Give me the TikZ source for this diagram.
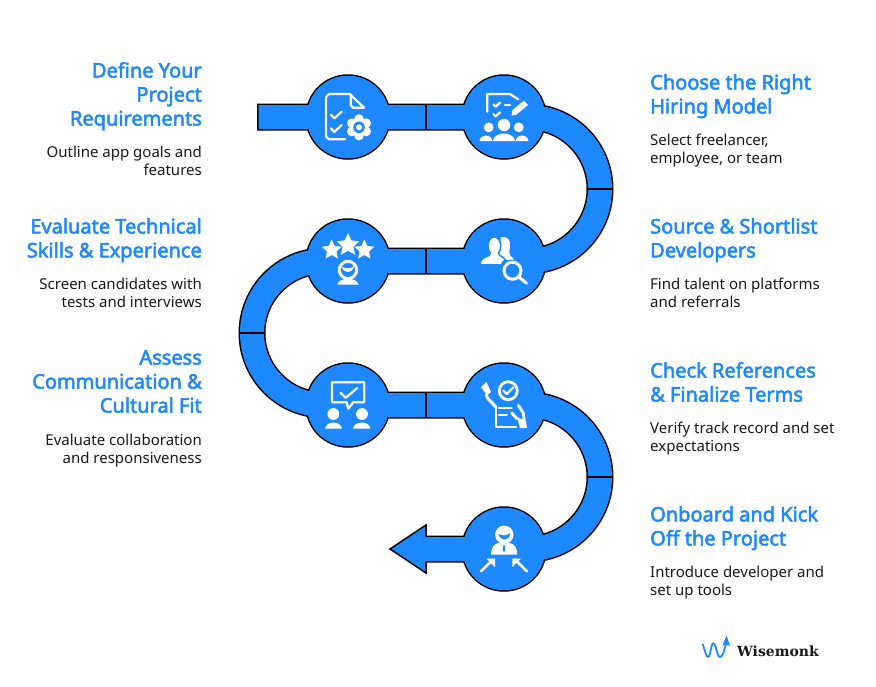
\documentclass[tikz,border=0pt]{standalone}
\usepackage{fontspec}
\usetikzlibrary{shapes.geometric}
\setmainfont{Noto Sans}
\newfontfamily\headf{Noto Sans}[FakeBold=2.5]
\newfontfamily\logof{DejaVu Serif}[BoldFont={DejaVu Serif Bold}]
\definecolor{wblue}{HTML}{1E88FF}
\definecolor{wtext}{HTML}{1A1A1A}
\newcommand\bandroute{-- (n1.center) -- (n2.center) -- (a1) arc[start angle=-90,end angle=90,radius=72] -- (n4.center) -- (n3.center) -- (a2) arc[start angle=270,end angle=90,radius=72] -- (n5.center) -- (n6.center) -- (a3) arc[start angle=-90,end angle=90,radius=72] -- (n7.center) -- (e1)}
\newcommand\dome[5]{\fill[white] (#1,#5) .. controls (#1+1,#4) and (#2-1,#4) .. (#2,#5) -- cycle;}
\tikzset{
  x=1pt,y=-1pt,
  stage/.style={circle,minimum size=84pt,inner sep=0pt,draw=black,line width=1.5pt,fill=wblue},
  bandout/.style={draw=black,line width=27pt,line join=round},
  bandin/.style={draw=wblue,line width=24pt,line join=round},
  divider/.style={draw=black,line width=1.5pt},
  ico/.style={draw=white,line width=2.2pt,line cap=round,line join=round},
  title/.style={anchor=north,inner sep=0pt,text=wblue,font=\headf\fontsize{20}{24}\selectfont,execute at begin node=\rule{0pt}{15pt}},
  desc/.style={anchor=north,inner sep=0pt,text=wtext,font=\fontsize{15}{18}\selectfont,execute at begin node=\rule{0pt}{15pt}},
  lhs/.style={anchor=north east,align=right},
  rhs/.style={anchor=north west,align=left},
  starshape/.style={star,star points=5,star point ratio=2.1,fill=white,inner sep=0pt},
}
\begin{document}
\begin{tikzpicture}
\useasboundingbox (0,0) rectangle (876,686);
\fill[white] (0,0) rectangle (876,686);
% stages
\node[stage] (n1) at (348,117) {};
\node[stage] (n2) at (504,117) {};
\node[stage] (n3) at (348,261) {};
\node[stage] (n4) at (504,261) {};
\node[stage] (n5) at (348,405) {};
\node[stage] (n6) at (504,405) {};
\node[stage] (n7) at (504,549) {};
\coordinate (s0) at (257,117);
\coordinate (s1) at (258.5,117);
\coordinate (a1) at (528,117);
\coordinate (a2) at (324,261);
\coordinate (a3) at (528,405);
\coordinate (e1) at (420,549);
% band
\path[bandout] (s0) \bandroute;
\filldraw[fill=wblue,draw=black,line width=1.5pt,miter limit=10] (426,525) -- (390,549) -- (426,573) -- cycle;
\path[bandin] (s1) \bandroute;
\foreach \n in {n1,n2,n3,n4,n5,n6,n7}{\fill[wblue] (\n) circle[radius=41.2];}
% dividers
\draw[divider] (426,105) -- (426,129);
\draw[divider] (426,249) -- (426,273);
\draw[divider] (426,393) -- (426,417);
\draw[divider] (588,189) -- (612,189);
\draw[divider] (240,333) -- (264,333);
\draw[divider] (588,477) -- (612,477);
% icon 1
\begin{scope}[shift={(n1.center)}]
  \draw[ico] (-3,22.3) -- (-19,22.3) -- (-22,19.5) -- (-22,-20) -- (-19,-23) -- (2.5,-23);
  \draw[ico] (2.7,-22) -- (16,-9.3) -- (5,-9.3) -- (2.7,-12) -- cycle;
  \draw[ico] (-17,-2) -- (-13.7,1.3) -- (-6.3,-5.3);
  \draw[ico] (-17,11.3) -- (-13.7,15) -- (-6.3,8);
  \begin{scope}[shift={(11,10.3)}]
    \foreach \a in {90,150,210,270,330,30}{\fill[white] (\a:8.3) circle[radius=4.8];}
    \fill[white] (0,0) circle[radius=9.5];
    \fill[wblue] (0,0) circle[radius=5.8];
    \fill[white] (0,0) circle[radius=3];
  \end{scope}
\end{scope}
% icon 2
\begin{scope}[shift={(n2.center)}]
  \draw[ico] (-16.7,-5.3) -- (-16.7,-23) -- (6,-23) -- (14.3,-17.7);
  \draw[ico] (-10.7,-12.7) -- (-8.3,-10.3) -- (-4,-14.3);
  \draw[ico] (-10.7,-3) -- (-8.3,-0.7) -- (-4,-4.7);
  \draw[ico] (1,-12) -- (6,-12);
  \fill[white] (7.5,-1.3) -- (8.5,-7) -- (20,-16.5) -- (24,-12) -- (12.5,-2.5) -- cycle;
  \fill[white] (0,8) circle[radius=6.2];
  \fill[white] (-15.3,10.3) circle[radius=4.9];
  \fill[white] (14.7,10.3) circle[radius=4.9];
  \dome{-11}{11}{0}{14}{24}
  \dome{-24.5}{-11.5}{-15}{16.5}{24}
  \dome{11.5}{24.5}{15}{16.5}{24}
\end{scope}
% icon 3
\begin{scope}[shift={(n3.center)}]
  \node[starshape,minimum size=24pt] (st1) at (0,-16) {};
  \node[starshape,minimum size=21pt] (st2) at (-16.3,-11) {};
  \node[starshape,minimum size=21pt] (st3) at (16.3,-11) {};
  \draw[white,line width=3pt] (0,9) circle[radius=8.7];
  \fill[white] (-6,5.5) .. controls (-3,8) and (3,8) .. (6,5) .. controls (5,13) and (-5,13) .. (-6,5.5) -- cycle;
  \dome{-10.5}{10.5}{0}{16}{23.5}
\end{scope}
% icon 4
\begin{scope}[shift={(n4.center)}]
  \fill[white] (-3,-24) .. controls (3,-25) and (7,-21) .. (6,-15) .. controls (5,-9) and (5,-6) .. (8,-4) -- (10,-1.5) -- (0,-1) -- (-5,-6) -- cycle;
  \filldraw[fill=white,draw=wblue,line width=1.5pt] (-24,3.9) .. controls (-24,-2) and (-21,-3) .. (-15,-5.5) -- (-13,-9) -- (-6,-9) -- (-4,-5.5) .. controls (-1,-4) and (0,-3) .. (1.5,-1) .. controls (-1,0) and (-2,2) .. (-2.5,3.9) -- cycle;
  \filldraw[fill=white,draw=wblue,line width=1.5pt] (-9.7,-15) ellipse[x radius=6.4,y radius=9.2];
  \fill[white] (-13.5,-8) rectangle (-6,-4);
  \draw[white,line width=3pt] (8.5,9.7) circle[radius=8.5];
  \draw[white,line width=3pt,line cap=round] (15,16) -- (22.5,22.3);
\end{scope}
% icon 5
\begin{scope}[shift={(n5.center)}]
  \draw[ico] (-1.3,-2.7) -- (-16,-2.7) -- (-16,-22.7) -- (16.3,-22.7) -- (16.3,-2.7) -- (5.3,-2.7) -- (0.3,3.7) -- cycle;
  \draw[ico] (-7.3,-12) -- (-2.3,-7.3) -- (9.3,-17);
  \fill[white] (-14.7,9) circle[radius=5.9];
  \fill[white] (14,9) circle[radius=5.9];
  \dome{-23}{-6}{-14.5}{15.5}{23.7}
  \dome{5}{22.5}{14}{15.5}{23.7}
\end{scope}
% icon 6
\begin{scope}[shift={(n6.center)}]
  \draw[white,line width=2.8pt] (4.3,-14.3) circle[radius=9];
  \draw[ico] (-0.7,-14.3) -- (2.7,-11) -- (9.3,-17.7);
  \draw[ico] (-8.3,2) -- (-8.3,22.3) -- (12,22.3);
  \draw[ico] (-5,3) -- (7.7,3);
  \draw[ico] (-5,10.3) -- (2.7,10.3);
  \fill[white] (-23,-18) -- (-17.5,-23) -- (-13,-13) -- (-17,-9.5) -- cycle;
  \draw[ico,line width=3pt] (-18,-10) -- (-15.7,-6) -- (-8,2);
  \draw[ico,line width=2.8pt] (14.3,0.3) -- (19.3,8) -- (20.5,18);
  \draw[ico,line width=3pt] (7.7,8) -- (13,13.5);
  \fill[white] (13,12) -- (22,16) -- (23,23) -- (16,23) -- cycle;
\end{scope}
% icon 7
\begin{scope}[shift={(n7.center)}]
  \fill[white] (0.3,-14.3) circle[radius=9.2];
  \fill[wblue] (-5.5,-15) .. controls (-2,-13) and (3,-13) .. (6,-16) .. controls (6,-8) and (-4,-7) .. (-5.5,-15) -- cycle;
  \fill[white] (-13,5.7) .. controls (-13,-5) and (-6,-7) .. (0,-7) .. controls (6,-7) and (13.3,-5) .. (13.3,5.7) -- cycle;
  \fill[wblue] (0,-0.5) ellipse[x radius=1.3,y radius=3.3];
  \draw[ico,line width=2.6pt] (-23,22.3) -- (-11,10.5);
  \fill[white] (-17.3,9.7) -- (-9,9.7) -- (-9,18) -- cycle;
  \draw[ico,line width=2.6pt] (23,22.3) -- (11,10.5);
  \fill[white] (8.3,18) -- (8.3,9.7) -- (17,9.7) -- cycle;
\end{scope}
% texts left
\node[title,lhs] (t1) at (202,62) {Define Your\\Project\\Requirements};
\node[desc,lhs] (d1) at (202,145.5) {Outline app goals and\\features};
\node[title,lhs] (t3) at (202,218) {Evaluate Technical\\Skills \& Experience};
\node[desc,lhs] (d3) at (202,277.5) {Screen candidates with\\tests and interviews};
\node[title,lhs] (t5) at (202,350) {Assess\\Communication \&\\Cultural Fit};
\node[desc,lhs] (d5) at (202,433.5) {Evaluate collaboration\\and responsiveness};
% texts right
\node[title,rhs] (t2) at (650,74) {Choose the Right\\Hiring Model};
\node[desc,rhs] (d2) at (650,133.5) {Select freelancer,\\employee, or team};
\node[title,rhs] (t4) at (650,218) {Source \& Shortlist\\Developers};
\node[desc,rhs] (d4) at (650,277.5) {Find talent on platforms\\and referrals};
\node[title,rhs] (t6) at (650,362) {Check References\\\& Finalize Terms};
\node[desc,rhs] (d6) at (650,421.5) {Verify track record and set\\expectations};
\node[title,rhs] (t7) at (650,506) {Onboard and Kick\\Off the Project};
\node[desc,rhs] (d7) at (650,565.5) {Introduce developer and\\set up tools};
% logo
\draw[draw=wblue,line width=1.8pt,line join=round,line cap=round] (702.7,644.3) .. controls (705,650) and (706,657) .. (708,657) .. controls (710.5,657) and (711,643.3) .. (713.3,643.3) .. controls (716,643.3) and (717,657) .. (720,657) .. controls (723,657) and (725,648) .. (726.7,640);
\fill[wblue] (726.5,635.5) -- (730,646) -- (726.7,644.5) -- (722.5,645.5) -- cycle;
\node[anchor=base west,inner sep=0pt,font=\logof\bfseries\fontsize{14}{16}\selectfont,text=wtext] (logo) at (737,656) {Wisemonk};
\end{tikzpicture}
\end{document}
